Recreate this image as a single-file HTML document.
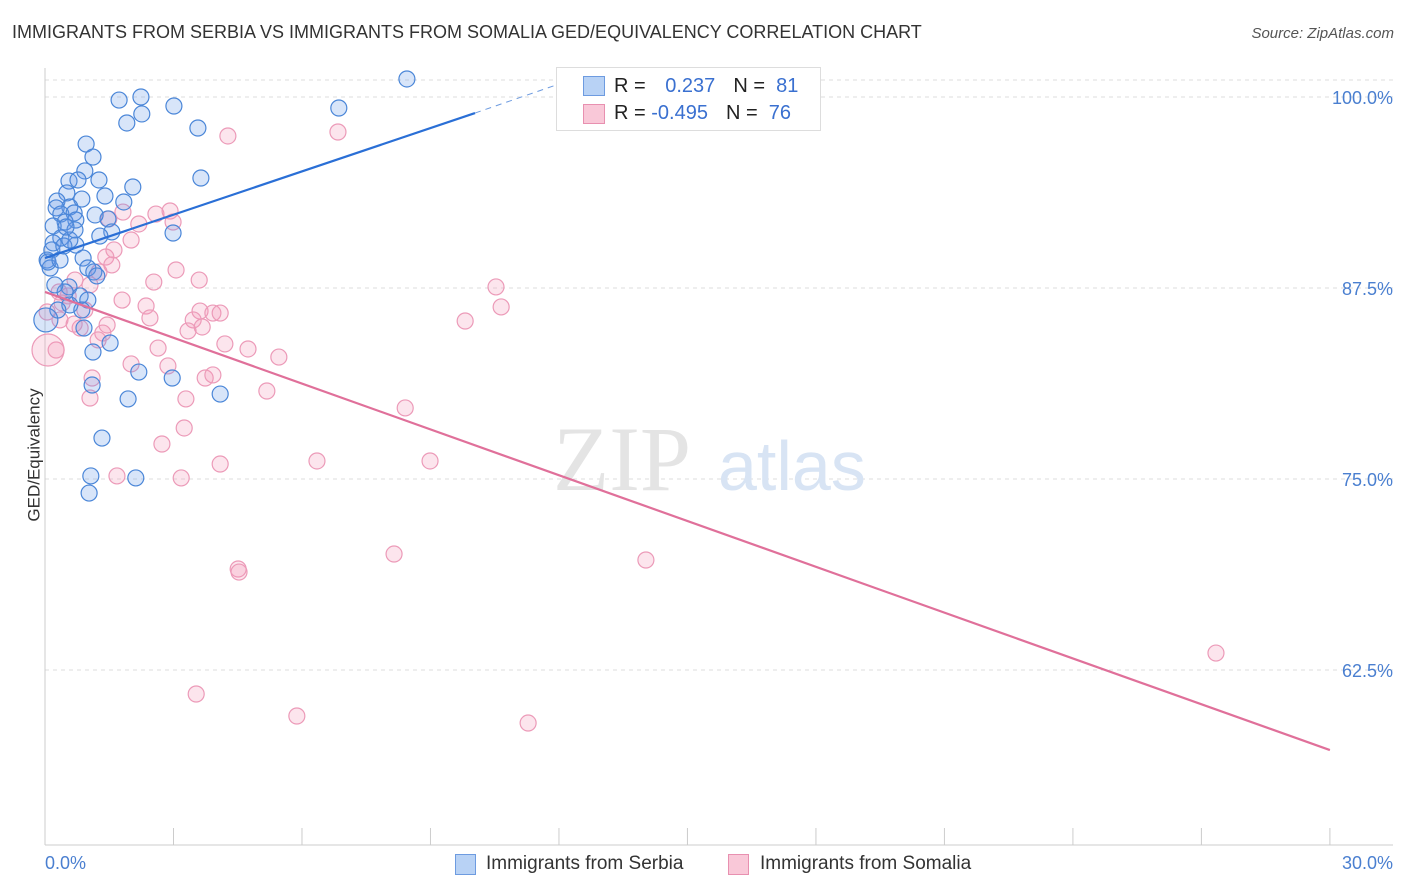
<!DOCTYPE html>
<html><head><meta charset="utf-8"><style>
body{margin:0;background:#fff;font-family:"Liberation Sans",sans-serif;}
#wrap{position:relative;width:1406px;height:892px;overflow:hidden;}
.t{position:absolute;white-space:nowrap;}
</style></head><body>
<div id="wrap">
<div class="t" style="left:12px;top:22px;font-size:18px;color:#333;">IMMIGRANTS FROM SERBIA VS IMMIGRANTS FROM SOMALIA GED/EQUIVALENCY CORRELATION CHART</div>
<div class="t" style="right:12px;top:25px;font-size:15px;color:#555;font-style:italic;">Source: ZipAtlas.com</div>
<div class="t" style="left:-32px;top:445px;font-size:17px;color:#333;transform:rotate(-90deg);">GED/Equivalency</div>
<svg id="svg" width="1406" height="892" style="position:absolute;left:0;top:0"></svg>
<div style="position:absolute;left:556px;top:67px;width:263px;height:62px;border:1px solid #ddd;background:#fff;font-size:20px;">
<div style="position:absolute;left:26px;top:8px;width:20px;height:18px;background:#b8d2f5;border:1px solid #6d9be0;"></div>
<div class="t" style="left:57px;top:7px;color:#222;">R = <span style="color:#3a70d0;margin-left:14px">0.237</span><span style="color:#222;margin-left:18px">N = </span><span style="color:#3a70d0">&nbsp;81</span></div>
<div style="position:absolute;left:26px;top:36px;width:20px;height:18px;background:#f9c8d8;border:1px solid #e890b0;"></div>
<div class="t" style="left:57px;top:34px;color:#222;">R = <span style="color:#3a70d0">-0.495</span><span style="color:#222;margin-left:18px">N = </span><span style="color:#3a70d0">&nbsp;76</span></div>
</div>
<div>
<div style="position:absolute;left:455px;top:854px;width:19px;height:19px;background:#b8d2f5;border:1px solid #6d9be0;"></div>
<div class="t" style="left:486px;top:853px;font-size:19px;color:#333;">Immigrants from Serbia</div>
<div style="position:absolute;left:728px;top:854px;width:19px;height:19px;background:#f9c8d8;border:1px solid #e890b0;"></div>
<div class="t" style="left:760px;top:853px;font-size:19px;color:#333;">Immigrants from Somalia</div>
</div>
</div>
<script>
const blueX=[8.45,6.86,2.24,1.73,3.01,2.26,1.91,3.57,0.96,1.12,0.93,1.26,0.56,2.05,0.77,0.51,1.40,0.28,0.86,1.84,0.58,0.26,0.37,0.68,0.72,0.47,0.19,1.47,1.56,1.28,2.99,3.64,0.37,0.19,0.72,0.16,0.44,0.89,0.05,0.12,1.00,1.14,1.21,0.56,0.47,0.82,1.00,0.58,0.86,0.30,0.91,1.52,1.12,2.19,2.97,1.10,1.94,4.09,1.33,1.07,2.12,1.03,0.02,0.07,0.58,0.35,0.23,0.70,1.17,0.49];
const blueY=[101.18,99.28,100.0,99.80,99.41,98.89,98.30,97.97,96.92,96.07,95.16,94.57,94.50,94.11,94.57,93.72,93.52,93.19,93.32,93.13,92.80,92.74,92.34,92.41,91.95,91.82,91.56,92.02,91.17,90.90,91.10,94.70,90.77,90.45,90.31,89.99,90.25,89.46,89.33,88.81,88.81,88.55,88.29,87.57,87.24,86.98,86.71,86.39,86.06,86.06,84.88,83.90,83.31,82.00,81.61,81.15,80.24,80.56,77.68,75.20,75.07,74.08,85.41,89.20,90.64,89.33,87.70,91.30,92.28,91.49];
const pinkX=[4.27,6.84,1.82,2.59,2.92,2.99,2.19,1.49,2.01,1.61,1.42,3.06,1.26,3.60,2.54,1.05,0.33,0.54,0.40,1.80,2.36,2.45,3.62,3.92,4.09,3.46,3.34,3.67,1.45,0.82,1.35,1.24,0.68,4.20,2.64,4.74,5.46,2.01,2.87,0.26,0.07,1.10,3.74,3.92,5.18,1.05,3.29,3.25,2.73,8.41,9.81,10.53,10.65,6.35,8.99,4.09,1.68,3.18,4.51,4.53,8.15,14.03,27.34,3.53,5.88,11.28,0.05,0.35,0.70,0.93,1.56];
const pinkY=[97.45,97.71,92.47,92.34,92.54,91.82,91.69,92.02,90.64,89.99,89.53,88.68,88.55,88.02,87.89,87.70,87.24,86.98,86.52,86.71,86.32,85.54,85.99,85.86,85.86,85.41,84.69,84.95,85.08,84.88,84.55,84.10,85.14,83.84,83.57,83.51,82.98,82.53,82.40,83.44,83.44,81.61,81.61,81.81,80.76,80.30,80.24,78.34,77.29,79.65,85.34,87.57,86.26,76.18,76.18,75.98,75.20,75.07,69.11,68.91,70.09,69.70,63.61,60.93,59.49,59.03,85.93,85.41,88.02,86.06,89.01];
const yTicks=[100,87.5,75,62.5];
const yTickLabels=["100.0%","87.5%","75.0%","62.5%"];
const xTicks=[0,3,6,9,12,15,18,21,24,27,30];
const blueTrend={x0:0,y0:89.46,x1:10.04,y1:98.95,xd:12.0,yd:100.85};
const pinkTrend={x0:0,y0:87.24,x1:30,y1:57.26};
const sx=v=>45+v*42.83, sy=v=>97+(100-v)*15.28;
const NS="http://www.w3.org/2000/svg", svg=document.getElementById('svg');
function el(tag,attrs,parent){const e=document.createElementNS(NS,tag);for(const k in attrs)e.setAttribute(k,attrs[k]);(parent||svg).appendChild(e);return e;}
// grid
const g0=el('line',{x1:45,x2:1393,y1:80,y2:80,stroke:'#ddd','stroke-dasharray':'4,4'});


yTicks.forEach((t,i)=>{
 const l=el('line',{x1:45,x2:1393,y1:sy(t),y2:sy(t),stroke:'#ddd','stroke-dasharray':'4,4'});
 
 
 const tx=el('text',{x:1393,y:sy(t)+7,'text-anchor':'end','font-size':'18',fill:'#4a7fd0','font-family':'Liberation Sans'});
 tx.textContent=yTickLabels[i];
 
 
});
const ax=el('line',{x1:45,x2:45,y1:68,y2:845,stroke:'#ccc'});


const bx=el('line',{x1:45,x2:1393,y1:845,y2:845,stroke:'#ccc'});


xTicks.forEach(t=>{const l=el('line',{x1:sx(t),x2:sx(t),y1:828,y2:845,stroke:'#ccc'});
 
 });
[["0.0%",45,'start'],["30.0%",1393,'end']].forEach(a=>{const tx=el('text',{x:a[1],y:869,'text-anchor':a[2],'font-size':'18',fill:'#4a7fd0','font-family':'Liberation Sans'});tx.textContent=a[0];
 
 });
// watermark
const wm=el('text',{x:553,y:490,'font-size':'92','font-family':'Liberation Serif',fill:'#e4e4e4'});
wm.textContent='ZIP';


const wm2=el('text',{x:718,y:490,'font-size':'70','font-family':'Liberation Sans',fill:'#d8e4f4'});
wm2.textContent='atlas';


// points
pinkX.forEach((x,i)=>{const big=(x<0.1&&pinkY[i]<84);const c=el('circle',{cx:sx(x),cy:sy(pinkY[i]),r:big?16:8,fill:'rgba(244,150,185,0.25)',stroke:'#ec9ab8','stroke-width':1.2});
 
 });
blueX.forEach((x,i)=>{const big=(x<0.03);const c=el('circle',{cx:sx(x),cy:sy(blueY[i]),r:big?12:8,fill:'rgba(100,150,230,0.25)',stroke:'#4a86d8','stroke-width':1.2});
 
 });
// trends
const bl=el('line',{x1:sx(blueTrend.x0),y1:sy(blueTrend.y0),x2:sx(blueTrend.x1),y2:sy(blueTrend.y1),stroke:'#2a6fd6','stroke-width':2.2});


const bd=el('line',{x1:sx(blueTrend.x1),y1:sy(blueTrend.y1),x2:sx(blueTrend.xd),y2:sy(blueTrend.yd),stroke:'#6d9be0','stroke-width':1,'stroke-dasharray':'6,5'});


const pl=el('line',{x1:sx(pinkTrend.x0),y1:sy(pinkTrend.y0),x2:sx(pinkTrend.x1),y2:sy(pinkTrend.y1),stroke:'#e0709a','stroke-width':2.2});


</script>
</body></html>
